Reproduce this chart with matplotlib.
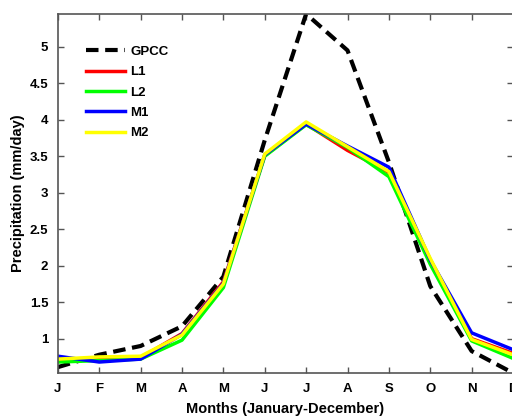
import matplotlib
matplotlib.use("Agg")
import matplotlib.pyplot as plt

months = ['J', 'F', 'M', 'A', 'M', 'J', 'J', 'A', 'S', 'O', 'N', 'D']
month_idx = list(range(1, 13))

gpcc = [0.61, 0.78, 0.90, 1.17, 1.85, 3.72, 5.45, 4.95, 3.42, 1.72, 0.83, 0.53]
l1 = [0.71, 0.72, 0.74, 1.07, 1.78, 3.51, 3.94, 3.58, 3.28, 2.06, 1.00, 0.80]
l2 = [0.68, 0.70, 0.72, 0.98, 1.70, 3.50, 3.93, 3.62, 3.22, 2.02, 0.97, 0.73]
m1 = [0.76, 0.68, 0.72, 1.06, 1.76, 3.52, 3.94, 3.64, 3.35, 2.08, 1.08, 0.85]
m2 = [0.72, 0.75, 0.76, 1.05, 1.75, 3.53, 3.97, 3.63, 3.29, 2.10, 0.99, 0.78]

plt.rcParams['font.family'] = ['Liberation Sans', 'DejaVu Sans']
plt.rcParams['font.weight'] = 'bold'

fig = plt.figure(figsize=(5.12, 4.18), dpi=100)
ax = fig.add_axes([0.113, 0.1077, 0.889, 0.859])

ax.plot(month_idx, gpcc, color='black', lw=3, dashes=(3, 1.6), label='GPCC')
ax.plot(month_idx, l1, color='#ff0000', lw=2.5, label='L1')
ax.plot(month_idx, l2, color='#00ff00', lw=2.5, label='L2')
ax.plot(month_idx, m1, color='#0000ff', lw=2.5, label='M1')
ax.plot(month_idx, m2, color='#ffff00', lw=2.5, label='M2')

ax.set_xlim(1, 12)
ax.set_ylim(min(gpcc), max(gpcc))
ax.set_xticks(month_idx)
ax.set_xticklabels(months)
ax.set_yticks([1, 1.5, 2, 2.5, 3, 3.5, 4, 4.5, 5])
ax.set_yticklabels(['1', '1.5', '2', '2.5', '3', '3.5', '4', '4.5', '5'])
ax.tick_params(direction='in', top=True, right=True, length=4, width=1,
               color='#555555', labelsize=9.5, pad=7)
for s in ax.spines.values():
    s.set_color('#555555')
    s.set_linewidth(1.2)

ax.set_xlabel('Months (January-December)', fontsize=10.5, fontweight='bold', labelpad=5)
ax.set_ylabel('Precipitation (mm/day)', fontsize=10.5, fontweight='bold', labelpad=3)

leg = ax.legend(loc='upper left', bbox_to_anchor=(0.035, 0.945), frameon=False,
                fontsize=9.5, handlelength=3.0, handletextpad=0.4, labelspacing=0.62)
for t in leg.get_texts():
    t.set_fontweight('bold')

fig.savefig('out.png', dpi=100)
